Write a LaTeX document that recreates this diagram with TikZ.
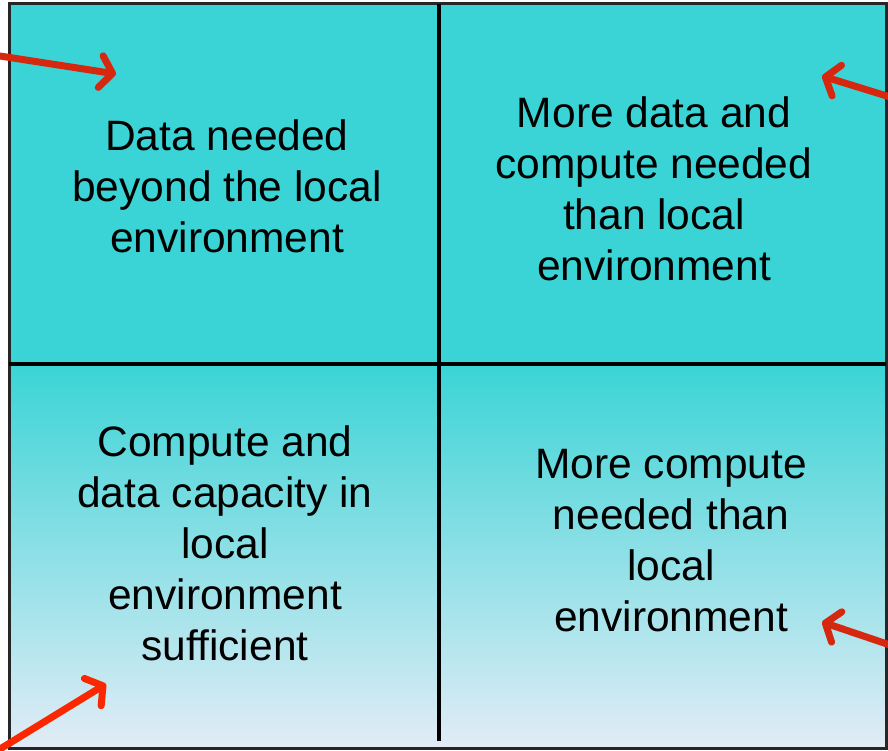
\documentclass[tikz,border=0pt]{standalone}
\usepackage{fontspec}
\setmainfont{Liberation Sans}
\usetikzlibrary{arrows.meta}
\definecolor{cyanq}{RGB}{58,212,214}
\definecolor{paleq}{RGB}{226,236,246}
\definecolor{redarrow}{RGB}{214,40,14}
\definecolor{redarrowb}{RGB}{250,40,0}
\tikzset{
  quadtext/.style={align=center,font=\fontsize{42.5}{51}\selectfont,text=black,inner sep=0pt},
  redarr/.style={line width=7pt,line cap=round,-{Straight Barb[round,length=12pt,width=32pt]}},
  divider/.style={line width=4pt,black},
}
\begin{document}
\begin{tikzpicture}[x=1pt,y=-1pt]
\useasboundingbox (0,0) rectangle (888,751);
% fills
\fill[cyanq] (9,4) rectangle (886,364);
\shade[top color=cyanq,bottom color=paleq] (9,364) rectangle (886,748);
% outer border
\draw[line width=3pt,black!85] (9,4) rectangle (886,748);
% dividers
\draw[divider] (438.5,4) -- (438.5,741);
\draw[divider] (9,364) -- (886,364);
% texts
\node[quadtext] (tl) at (227,186) {Data needed\\beyond the local\\environment};
\node[quadtext] (tr) at (654,189) {More data and\\compute needed\\than local\\environment};
\node[quadtext] (bl) at (225,543) {Compute and\\data capacity in\\local\\environment\\sufficient};
\node[quadtext] (br) at (671,541) {More compute\\needed than\\local\\environment};
% arrows
\coordinate (a1s) at (0,56);
\coordinate (a1e) at (116,74);
\coordinate (a2s) at (890,97);
\coordinate (a2e) at (822,76);
\coordinate (a3s) at (0,749);
\coordinate (a3e) at (106,684);
\coordinate (a4s) at (890,645);
\coordinate (a4e) at (822,622);
\draw[redarr,redarrow] (a1s) -- (a1e);
\draw[redarr,redarrow] (a2s) -- (a2e);
\draw[redarr,redarrowb] (a3s) -- (a3e);
\draw[redarr,redarrow] (a4s) -- (a4e);
\end{tikzpicture}
\end{document}
